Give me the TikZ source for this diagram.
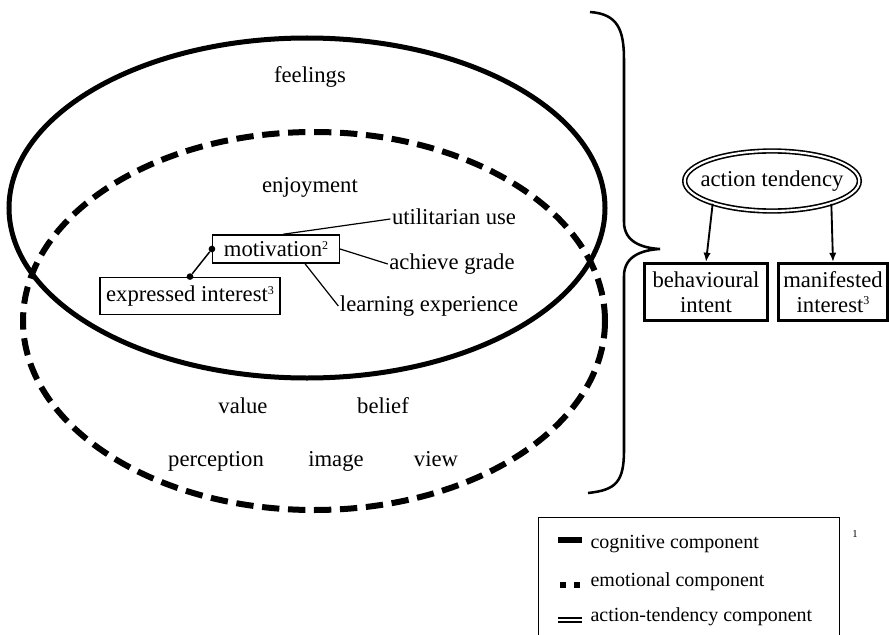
\documentclass[tikz,border=0pt]{standalone}
\usepackage{fontspec}
\setmainfont{Liberation Serif}
\usetikzlibrary{shapes.geometric,calc,arrows.meta}
\newcommand{\supnum}[1]{\raisebox{5.5pt}{\fontsize{9}{9}\selectfont #1}}
\begin{document}
\begin{tikzpicture}[x=0.75pt,y=-0.75pt,
  lbl/.style={inner sep=1pt,text height=11.5pt,text depth=3.8pt,font=\fontsize{17}{18}\selectfont},
  smallbox/.style={draw,line width=1.1pt,inner sep=2pt,font=\fontsize{17}{18}\selectfont},
  bigbox/.style={draw,line width=1.9pt,inner sep=2pt,align=center,font=\fontsize{17}{18.5}\selectfont},
  legtext/.style={inner sep=1pt,anchor=west,font=\fontsize{15}{16}\selectfont},
  thin/.style={line width=0.9pt},
  arr/.style={line width=1.4pt,-{Latex[length=7pt,width=5.5pt]}},
  dotc/.style={fill,circle,inner sep=0pt,minimum size=5pt}
]
\useasboundingbox (0,0) rectangle (889,635);
\clip (0,0) rectangle (889,635);
\fill[white] (0,0) rectangle (889,635);

% ellipses
\draw[line width=3.75pt] (307,208) ellipse [x radius=298, y radius=170];
\draw[line width=4.5pt,dash pattern=on 13pt off 6.5pt] (314,321) ellipse [x radius=291, y radius=189];

% brace
\draw[line width=1.9pt] (590,12) .. controls (618,14) and (624,30) .. (624,60)
  -- (624,222) .. controls (624,242) and (642,248) .. (660,249)
  .. controls (642,250) and (624,256) .. (624,276)
  -- (624,450) .. controls (624,482) and (616,490) .. (588,493);

% left labels
\node[lbl] (feel) at (310,77) {feelings};
\node[lbl] (enj) at (310,187) {enjoyment};
\node[lbl] (util) at (454,219) {utilitarian use};
\node[lbl] (ach) at (452,264) {achieve grade};
\node[lbl] (learn) at (429,306) {learning experience};
\node[smallbox,minimum width=95pt,minimum height=21pt] (mot) at (276,249) {motivation\supnum{2}};
\node[smallbox,minimum width=135pt,minimum height=28pt] (exp) at (190,296) {expressed interest\supnum{3}};
\node[lbl] (val) at (243,408) {value};
\node[lbl] (bel) at (383,408) {belief};
\node[lbl] (perc) at (216,461) {perception};
\node[lbl] (img) at (336,461) {image};
\node[lbl] (view) at (436,461) {view};

\node[dotc] (d1) at (mot.west) {};
\node[dotc] (d2) at (exp.north) {};
\draw[line width=1.1pt] (d1) -- (d2);
\draw[thin] ($(mot.north)+(7,0)$) -- (util.west);
\draw[thin] (mot.east) -- (ach.west);
\draw[thin] ($(mot.south)+(29,0)$) -- (learn.west);

% right side
\node[ellipse,draw,line width=1.2pt,double,double distance=1.6pt,minimum width=131pt,minimum height=45pt,inner xsep=-14pt,inner ysep=0pt,font=\fontsize{17}{18}\selectfont] (at) at (772,181) {action tendency};
\node[bigbox,minimum width=92pt,minimum height=43pt] (beh) at (706,292) {behavioural\\intent};
\node[bigbox,minimum width=82pt,minimum height=43pt] (man) at (833,292) {manifested\\interest\supnum{3}};
\draw[arr] (at.201) -- (beh.north);
\draw[arr] (at.339) -- (man.north);

% legend
\node[draw,line width=0.8pt,minimum width=226pt,minimum height=100pt,inner sep=0pt] (leg) at (689,584) {};
\draw[line width=3.8pt] (558,540) -- (582,540);
\fill (560,582) rectangle (566,588);
\fill (574,582) rectangle (580,588);
\draw[line width=1.1pt,double,double distance=1.6pt] (558,620) -- (582,620);
\node[legtext] (l1) at (589,544) {cognitive component};
\node[legtext] (l2) at (589,582) {emotional component};
\node[legtext] (l3) at (589,617) {action-tendency component};
\node[inner sep=0pt,font=\fontsize{8}{9}\selectfont] (one) at (855,534) {1};
\end{tikzpicture}
\end{document}
